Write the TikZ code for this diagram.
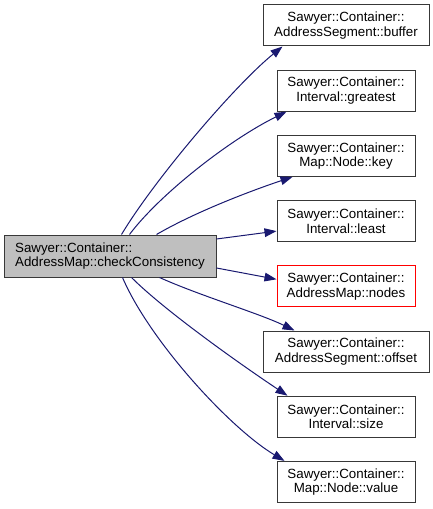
\documentclass[tikz,border=0pt]{standalone}
\usepackage{fontspec}
\setmainfont{Liberation Sans}
\usetikzlibrary{arrows.meta,calc}
\definecolor{edgeblue}{HTML}{191970}
\definecolor{mainfill}{HTML}{BFBFBF}
\definecolor{boxline}{HTML}{383838}
\begin{document}
\begin{tikzpicture}[x=0.75pt,y=-0.75pt,
  box/.style={draw=boxline,line width=0.75pt,fill=white,rectangle,align=center,
    minimum height=41*0.75pt,inner sep=0pt,font=\fontsize{10pt}{11pt}\selectfont},
  narrow/.style={box,minimum width=138*0.75pt},
  wide/.style={box,minimum width=166*0.75pt},
  mainbox/.style={box,fill=mainfill,align=left,minimum width=212*0.75pt,minimum height=42*0.75pt},
  redbox/.style={narrow,draw=red},
  call/.style={draw=edgeblue,line width=0.75pt,-{Triangle[length=9pt,width=6.5pt]},fill=none}]
\useasboundingbox (0,0) rectangle (432,509);
\node[mainbox] (main) at (110,256) {Sawyer::Container::\\AddressMap::checkConsistency};
\node[wide] (buffer) at (346,25.5) {Sawyer::Container::\\AddressSegment::buffer};
\node[narrow] (greatest) at (346,90.7) {Sawyer::Container::\\Interval::greatest};
\node[narrow] (key) at (346,155.9) {Sawyer::Container::\\Map::Node::key};
\node[narrow] (least) at (346,221.1) {Sawyer::Container::\\Interval::least};
\node[redbox] (nodes) at (346,286.3) {Sawyer::Container::\\AddressMap::nodes};
\node[wide] (offset) at (346,351.5) {Sawyer::Container::\\AddressSegment::offset};
\node[narrow] (size) at (346,416.7) {Sawyer::Container::\\Interval::size};
\node[narrow] (value) at (346,481.9) {Sawyer::Container::\\Map::Node::value};

\draw[call] ($(main.north west)+(118,0)$) .. controls +(33,-55) and +(-48,39) .. ($(buffer.south west)+(20,0)$);
\draw[call] ($(main.north west)+(126,0)$) .. controls +(30,-40) and +(-57,28) .. ($(greatest.south west)+(10,0)$);
\draw[call] ($(main.north west)+(153,0)$) .. controls +(43,-25) and +(-33,11) .. ($(key.south west)+(16,0)$);
\draw[call] ($(main.east)+(0,-17)$) -- ($(least.west)+(0,10)$);
\draw[call] ($(main.east)+(0,12)$) -- ($(nodes.west)+(0,-7)$);
\draw[call] ($(main.south west)+(156,0)$) .. controls +(40,18) and +(-35,-17) .. ($(offset.north west)+(32,0)$);
\draw[call] ($(main.south west)+(128,0)$) .. controls +(33,33) and +(-48,-32) .. ($(size.north west)+(11,0)$);
\draw[call] ($(main.south west)+(119,0)$) .. controls +(27,63) and +(-55,-33) .. ($(value.north west)+(8,0)$);
\end{tikzpicture}
\end{document}
